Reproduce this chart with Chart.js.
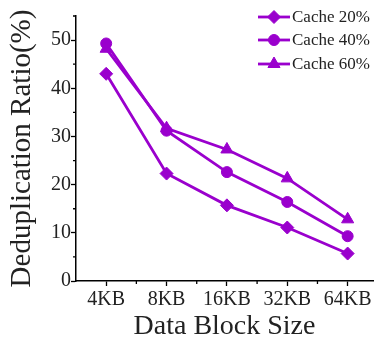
<!DOCTYPE html>
<html>
<head>
<meta charset="utf-8">
<script src="https://cdn.jsdelivr.net/npm/chart.js@4/dist/chart.umd.min.js"></script>
<style>
  html, body { margin: 0; padding: 0; background: #fff; }
  #wrap { width: 381px; height: 343px; }
</style>
</head>
<body>
<div id="wrap"><canvas id="myChart" width="381" height="343"></canvas></div>
<script>
// datos
const tamanos = ["4KB", "8KB", "16KB", "32KB", "64KB"];
const cache20 = [43.0, 22.3, 15.7, 11.1, 5.7];
const cache40 = [49.3, 31.2, 22.6, 16.4, 9.3];
const cache60 = [48.2, 31.7, 27.3, 21.3, 12.8];
const ticksY = [0, 10, 20, 30, 40, 50];
const nombres = ["Cache 20%", "Cache 40%", "Cache 60%"];

const morado = "#9a00cd";
const fuente = "'Liberation Serif', 'Times New Roman', serif";

// pasa cada serie a puntos {x, y} usando el indice de la categoria
function puntos(serie) {
  return serie.map((v, i) => ({ x: i, y: v }));
}

function serie(nombre, valores, estilo, radio) {
  return {
    label: nombre,
    data: puntos(valores),
    borderColor: morado,
    backgroundColor: morado,
    borderWidth: 2.8,
    pointStyle: estilo,
    pointRadius: radio,
    pointBorderWidth: 1,
    tension: 0,
  };
}

// ticks menores y leyenda dibujados a mano
const extras = {
  id: "extras",
  afterDraw(chart) {
    const ctx = chart.ctx;
    const x = chart.scales.x;
    const y = chart.scales.y;
    ctx.save();
    ctx.strokeStyle = "#000";
    ctx.lineWidth = 1.3;
    ctx.beginPath();
    for (let v = 5; v <= 55; v += 10) {
      const py = y.getPixelForValue(v);
      ctx.moveTo(x.left - 3, py);
      ctx.lineTo(x.left, py);
    }
    for (let v = 0.5; v < 4.4; v += 1) {
      const px = x.getPixelForValue(v);
      ctx.moveTo(px, y.bottom);
      ctx.lineTo(px, y.bottom + 3);
    }
    ctx.stroke();

    // leyenda
    const filas = [17, 40, 64];
    chart.data.datasets.forEach((ds, i) => {
      const fy = filas[i];
      ctx.strokeStyle = morado;
      ctx.lineWidth = 2.8;
      ctx.beginPath();
      ctx.moveTo(258, fy);
      ctx.lineTo(290, fy);
      ctx.stroke();
      ctx.fillStyle = morado;
      ctx.strokeStyle = morado;
      ctx.lineWidth = 1;
      Chart.helpers.drawPoint(ctx, { pointStyle: ds.pointStyle, radius: ds.pointRadius, rotation: 0, borderWidth: 1 }, 274, fy);
      ctx.fillStyle = "#222";
      ctx.font = "17px " + fuente;
      ctx.textBaseline = "middle";
      ctx.fillText(ds.label, 292, fy + 1);
    });
    ctx.restore();
  },
};

const config = {
  type: "line",
  data: {
    datasets: [
      serie(nombres[0], cache20, "rectRot", 6.5),
      serie(nombres[1], cache40, "circle", 5.5),
      serie(nombres[2], cache60, "triangle", 7),
    ],
  },
  options: {
    responsive: false,
    animation: false,
    layout: { padding: { top: 16, right: 0, left: 0, bottom: 0 } },
    plugins: { legend: { display: false }, tooltip: { enabled: false } },
    scales: {
      x: {
        type: "linear",
        min: -0.5,
        max: 4.42,
        afterBuildTicks: (s) => { s.ticks = tamanos.map((t, i) => ({ value: i })); },
        afterFit: (s) => { s.height = 62; },
        ticks: {
          callback: (v) => tamanos[v],
          color: "#222",
          font: { family: fuente, size: 20 },
          padding: 2,
          maxRotation: 0,
        },
        grid: { drawOnChartArea: false, drawTicks: true, tickLength: 5, color: "#000", tickWidth: 1.3 },
        border: { color: "#000", width: 1.5 },
        title: {
          display: true,
          text: "Data Block Size",
          color: "#222",
          font: { family: fuente, size: 28 },
          padding: { top: 0, bottom: 0 },
        },
      },
      y: {
        min: 0,
        max: 55,
        afterBuildTicks: (s) => { s.ticks = ticksY.map((v) => ({ value: v })); },
        afterFit: (s) => { s.width = 76; },
        ticks: {
          color: "#222",
          font: { family: fuente, size: 20 },
          padding: 0,
        },
        grid: { drawOnChartArea: false, drawTicks: true, tickLength: 5, color: "#000", tickWidth: 1.3 },
        border: { color: "#000", width: 1.5 },
        title: {
          display: true,
          text: "Deduplication Ratio(%)",
          color: "#222",
          font: { family: fuente, size: 29 },
          padding: { top: 5, bottom: 0 },
        },
      },
    },
  },
  plugins: [extras],
};

const chartDom = document.getElementById("myChart");
chartDom.myChart = new Chart(chartDom.getContext("2d"), config);
</script>
</body>
</html>
